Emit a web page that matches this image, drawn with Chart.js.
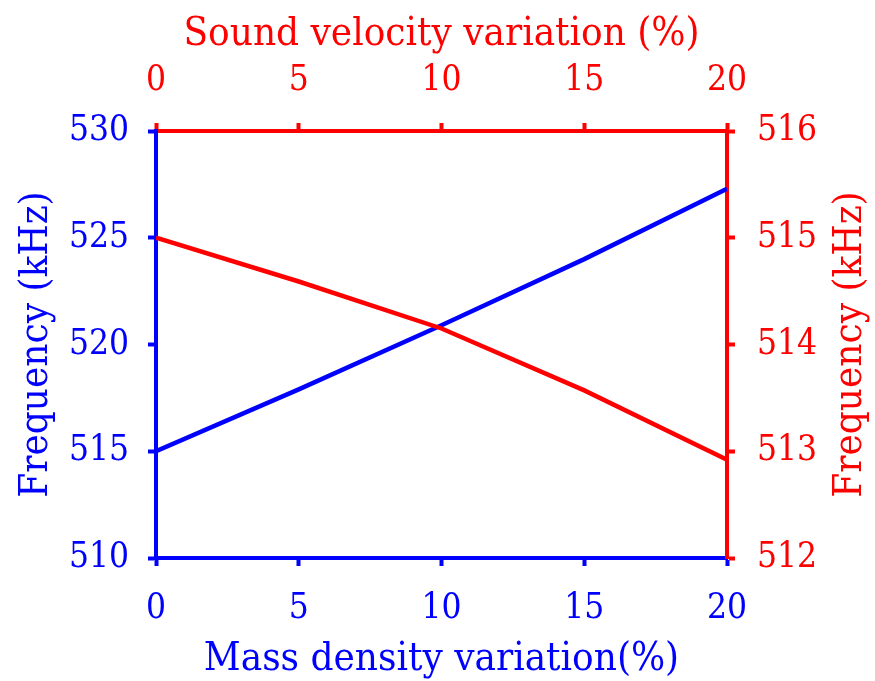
<!DOCTYPE html>
<html>
<head>
<meta charset="utf-8">
<script src="https://cdn.jsdelivr.net/npm/chart.js@4.4.1/dist/chart.umd.min.js"></script>
<style>
  html, body { margin: 0; padding: 0; background: #fff; }
  #wrap { width: 875px; height: 681px; }
</style>
</head>
<body>
<div id="wrap"><canvas id="freq-chart" width="875" height="681"></canvas></div>
<script>
// percent variation (shared x positions)
const variation = [0, 5, 10, 15, 20];
// frequency vs mass density variation (kHz), left/bottom axes
const densityFreq = [515.0, 517.9, 520.9, 524.0, 527.3];
// frequency vs sound velocity variation (kHz), right/top axes
const velocityFreq = [515.0, 514.59, 514.15, 513.57, 512.92];

const BLUE = '#0000ff';
const RED = '#ff0000';
const FONT = '"DejaVu Serif Condensed", "DejaVu Serif", serif';
const RIGHT_TITLE = 'Frequency (kHz)';

function toPoints(xs, ys) {
    return xs.map((x, i) => ({ x: x, y: ys[i] }));
}

function axis(position, color, min, max, step, title, opts) {
    return {
        type: 'linear',
        position: position,
        min: min, max: max,
        ticks: {
            stepSize: step,
            color: color,
            padding: opts.tickPad,
            font: { family: FONT, size: 35 },
            maxRotation: 0
        },
        grid: {
            drawOnChartArea: false,
            drawTicks: true,
            tickLength: 8,
            tickWidth: 4,
            tickColor: color
        },
        border: { display: true, color: color, width: 4 },
        title: {
            display: !!title,
            text: title || '',
            color: color,
            font: { family: FONT, size: 40, lineHeight: 1 },
            padding: opts.titlePad
        },
        afterFit: opts.fit
    };
}

// right axis title reads bottom-to-top like the left one
const rightTitle = {
    id: 'rightTitle',
    afterDraw(chart) {
        const ctx = chart.ctx;
        const area = chart.chartArea;
        ctx.save();
        ctx.translate(851, (area.top + area.bottom) / 2);
        ctx.rotate(-Math.PI / 2);
        ctx.font = '40px ' + FONT;
        ctx.fillStyle = RED;
        ctx.textAlign = 'center';
        ctx.textBaseline = 'middle';
        ctx.fillText(RIGHT_TITLE, 0, 0);
        ctx.restore();
    }
};

new Chart(document.getElementById('freq-chart'), {
    type: 'line',
    data: {
        datasets: [
            {
                label: 'mass density',
                data: toPoints(variation, densityFreq),
                borderColor: BLUE,
                borderWidth: 4.5,
                pointRadius: 0,
                xAxisID: 'x', yAxisID: 'y',
                order: 2
            },
            {
                label: 'sound velocity',
                data: toPoints(variation, velocityFreq),
                borderColor: RED,
                borderWidth: 4.5,
                pointRadius: 0,
                xAxisID: 'x2', yAxisID: 'y2',
                order: 1
            }
        ]
    },
    options: {
        responsive: false,
        animation: false,
        layout: { padding: 0 },
        plugins: { legend: { display: false }, tooltip: { enabled: false } },
        scales: {
            x: axis('bottom', BLUE, 0, 20, 5, 'Mass density variation(%)',
                { tickPad: 22, titlePad: { top: 0, bottom: 1 }, fit: s => { s.height = 123; } }),
            x2: axis('top', RED, 0, 20, 5, 'Sound velocity variation (%)',
                { tickPad: 21, titlePad: { top: 15, bottom: 0 }, fit: s => { s.height = 131; } }),
            y: axis('left', BLUE, 510, 530, 5, 'Frequency (kHz)',
                { tickPad: 19, titlePad: { top: 17, bottom: 0 }, fit: s => { s.width = 156; } }),
            y2: axis('right', RED, 512, 516, 1, null,
                { tickPad: 22, titlePad: 0, fit: s => { s.width = 148; } })
        }
    },
    plugins: [rightTitle]
});
</script>
</body>
</html>
